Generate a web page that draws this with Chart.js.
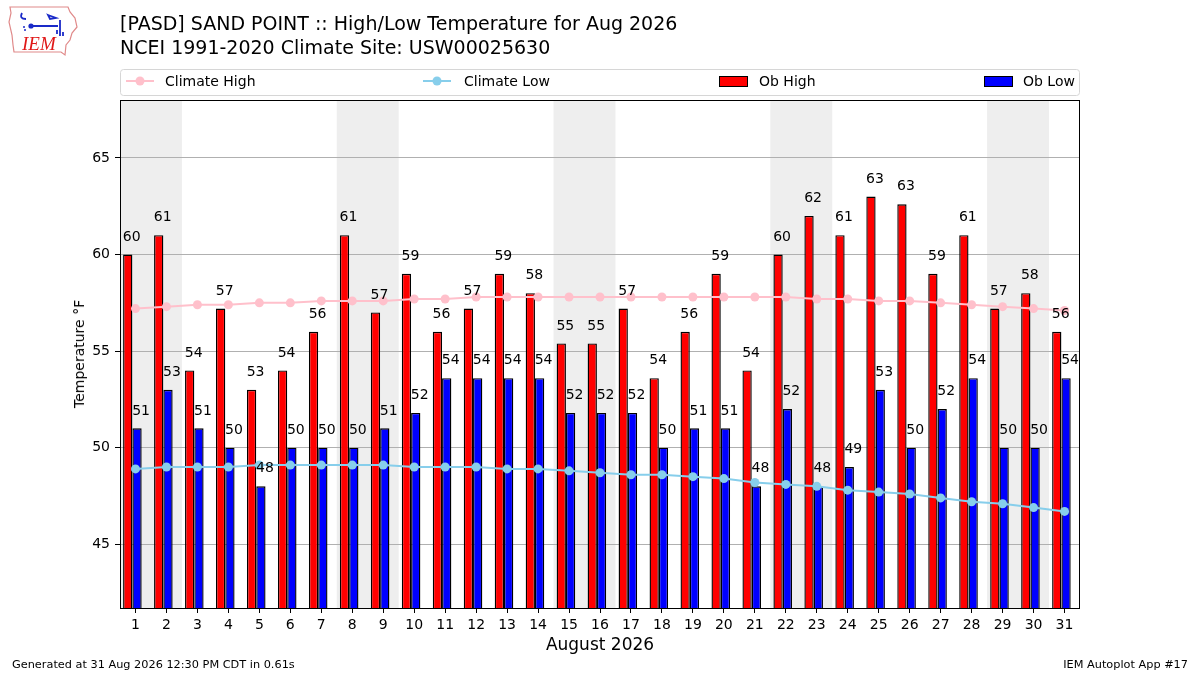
<!DOCTYPE html>
<html>
<head>
<meta charset="utf-8">
<script src="https://cdn.jsdelivr.net/npm/chart.js@4.4.1/dist/chart.umd.min.js"></script>
<style>
    body { margin: 0; background: #fff; font-family: 'DejaVu Sans', sans-serif; }
    #marco { position: relative; width: 1200px; height: 675px; background: #fff; overflow: hidden; }
    #grafica { position: absolute; left: 0; top: 0; }
    .txt { position: absolute; white-space: nowrap; color: #000; line-height: 1; }
</style>
</head>
<body>
<div id="marco">
    <canvas id="grafica" width="1200" height="675"></canvas>

    <svg style="position:absolute;left:0;top:0" width="90" height="64" viewBox="0 0 90 64">
        <path d="M10 7 L68 7 L70 12 L75 18 L77 27 L72 33 L70 40 L66 45 L65 55 L61 52 L14 52 L13 45 L12 35 L9 22 L11 13 Z" fill="none" stroke="#e08a8a" stroke-width="1.2"/>
        <path d="M29 26 L58 26 M22 13 Q19 19 26 19 M48 15 L56 18 L50 19 Z M60 20 L60 36 M57 30 L57 34 M63 32 L63 36" stroke="#1a2ac8" stroke-width="1.8" fill="none"/>
        <circle cx="31" cy="26" r="2.6" fill="#1a2ac8"/>
        <circle cx="24" cy="27" r="1" fill="#1a2ac8"/>
        <circle cx="25" cy="30" r="1" fill="#1a2ac8"/>
        <text x="22" y="50" font-family="Liberation Serif, serif" font-style="italic" font-size="19" fill="#e01818">IEM</text>
    </svg>

    <div class="txt" style="left:120px;top:14px;font-size:19px">[PASD] SAND POINT :: High/Low Temperature for Aug 2026</div>
    <div class="txt" style="left:120px;top:38px;font-size:19px">NCEI 1991-2020 Climate Site: USW00025630</div>
    <div class="txt" style="left:79px;top:354px;font-size:14px;transform:translate(-50%,-50%) rotate(-90deg)">Temperature °F</div>
    <div class="txt" style="left:600px;top:644px;font-size:17px;transform:translate(-50%,-50%)">August 2026</div>
    <div class="txt" style="left:12px;top:659px;font-size:11.3px">Generated at 31 Aug 2026 12:30 PM CDT in 0.61s</div>
    <div class="txt" style="right:12px;top:659px;font-size:11.3px">IEM Autoplot App #17</div>
</div>

<script>
// datos del mes (°F)
var dias = [1, 2, 3, 4, 5, 6, 7, 8, 9, 10, 11, 12, 13, 14, 15, 16, 17, 18, 19, 20, 21, 22, 23, 24, 25, 26, 27, 28, 29, 30, 31];
var obAlta = [60, 61, 54, 57.2, 53, 54, 56, 61, 57, 59, 56, 57.2, 59, 58, 55.4, 55.4, 57.2, 53.6, 56, 59, 54, 60, 62, 61, 63, 62.6, 59, 61, 57.2, 58, 56];
var obBaja = [51, 53, 51, 50, 48, 50, 50, 50, 51, 51.8, 53.6, 53.6, 53.6, 53.6, 51.8, 51.8, 51.8, 50, 51, 51, 48, 52, 48, 49, 53, 50, 52, 53.6, 50, 50, 53.6];
var climaAlta = [57.2, 57.3, 57.4, 57.4, 57.5, 57.5, 57.6, 57.6, 57.6, 57.7, 57.7, 57.8, 57.8, 57.8, 57.8, 57.8, 57.8, 57.8, 57.8, 57.8, 57.8, 57.8, 57.7, 57.7, 57.6, 57.6, 57.5, 57.4, 57.3, 57.2, 57.1];
var climaBaja = [48.9, 49.0, 49.0, 49.0, 49.1, 49.1, 49.1, 49.1, 49.1, 49.0, 49.0, 49.0, 48.9, 48.9, 48.8, 48.7, 48.6, 48.6, 48.5, 48.4, 48.2, 48.1, 48.0, 47.8, 47.7, 47.6, 47.4, 47.2, 47.1, 46.9, 46.7];
var ticksY = [45, 50, 55, 60, 65];
var finesDeSemana = [[1, 2], [8, 9], [15, 16], [22, 23], [29, 30]];

var fuente = "'DejaVu Sans', sans-serif";

function puntos(valores, desplazamiento) {
    return dias.map(function (d, i) { return { x: d + desplazamiento, y: valores[i] }; });
}

// sombreado de sabado/domingo, detras de la rejilla
var sombreado = {
    id: 'sombreado',
    beforeDraw: function (chart) {
        var ctx = chart.ctx, area = chart.chartArea, x = chart.scales.x;
        ctx.save();
        ctx.fillStyle = '#eeeeee';
        finesDeSemana.forEach(function (par) {
            var x0 = x.getPixelForValue(par[0] - 0.5);
            var x1 = x.getPixelForValue(par[1] + 0.5);
            ctx.fillRect(x0, area.top, x1 - x0, area.bottom - area.top);
        });
        ctx.restore();
    }
};

// etiquetas encima de cada barra
var etiquetas = {
    id: 'etiquetas',
    afterDatasetsDraw: function (chart) {
        var ctx = chart.ctx;
        ctx.save();
        ctx.font = '14px ' + fuente;
        ctx.fillStyle = '#000';
        ctx.textAlign = 'center';
        ctx.textBaseline = 'middle';
        chart.data.datasets.forEach(function (ds, k) {
            if (ds.type !== 'bar') return;
            chart.getDatasetMeta(k).data.forEach(function (barra, i) {
                ctx.fillText(String(Math.round(ds.data[i].y)), barra.x + 4, barra.y - 17.5);
            });
        });
        ctx.restore();
    }
};

// marco del area y leyenda
var marcoYLeyenda = {
    id: 'marcoYLeyenda',
    afterDraw: function (chart) {
        var ctx = chart.ctx, a = chart.chartArea;
        ctx.save();
        ctx.strokeStyle = '#000';
        ctx.lineWidth = 1;
        ctx.strokeRect(a.left + 0.5, a.top + 0.5, a.right - a.left - 1, a.bottom - a.top);

        // caja de la leyenda
        var lx = 120.5, ly = 69.5, lw = 959, lh = 26, r = 3;
        ctx.beginPath();
        ctx.moveTo(lx + r, ly);
        ctx.arcTo(lx + lw, ly, lx + lw, ly + lh, r);
        ctx.arcTo(lx + lw, ly + lh, lx, ly + lh, r);
        ctx.arcTo(lx, ly + lh, lx, ly, r);
        ctx.arcTo(lx, ly, lx + lw, ly, r);
        ctx.closePath();
        ctx.fillStyle = 'rgba(255,255,255,0.8)';
        ctx.fill();
        ctx.strokeStyle = '#d6d6d6';
        ctx.stroke();

        var cy = 81;
        var items = [
            { ds: 0, x: 126, tx: 165 },
            { ds: 1, x: 423, tx: 464 },
            { ds: 2, x: 719, tx: 759 },
            { ds: 3, x: 984, tx: 1023 }
        ];
        ctx.font = '14px ' + fuente;
        ctx.textBaseline = 'middle';
        ctx.textAlign = 'left';
        items.forEach(function (it) {
            var ds = chart.data.datasets[it.ds];
            if (ds.type === 'line') {
                ctx.strokeStyle = ds.borderColor;
                ctx.lineWidth = 2;
                ctx.beginPath();
                ctx.moveTo(it.x, cy);
                ctx.lineTo(it.x + 28, cy);
                ctx.stroke();
                ctx.fillStyle = ds.borderColor;
                ctx.beginPath();
                ctx.arc(it.x + 14, cy, 4.5, 0, Math.PI * 2);
                ctx.fill();
            } else {
                ctx.fillStyle = ds.backgroundColor;
                ctx.fillRect(it.x, cy - 5, 28, 10);
                ctx.strokeStyle = '#000';
                ctx.lineWidth = 1;
                ctx.strokeRect(it.x + 0.5, cy - 4.5, 28, 10);
            }
            ctx.fillStyle = '#000';
            ctx.fillText(ds.label, it.tx, cy + 1);
        });
        ctx.restore();
    }
};

var ctx = document.getElementById('grafica').getContext('2d');
var grafica = new Chart(ctx, {
    data: {
        datasets: [
            {
                type: 'line', label: 'Climate High', data: puntos(climaAlta, 0),
                borderColor: '#ffc0cb', backgroundColor: '#ffc0cb', borderWidth: 2,
                pointRadius: 4.5, pointBorderWidth: 0, order: 0
            },
            {
                type: 'line', label: 'Climate Low', data: puntos(climaBaja, 0),
                borderColor: '#87ceeb', backgroundColor: '#87ceeb', borderWidth: 2,
                pointRadius: 4.5, pointBorderWidth: 0, order: 0
            },
            {
                type: 'bar', label: 'Ob High', data: puntos(obAlta, -0.1),
                backgroundColor: '#ff0000', borderColor: '#000', borderWidth: 1.4, borderSkipped: false,
                categoryPercentage: 0.6, barPercentage: 1.0, order: 1
            },
            {
                type: 'bar', label: 'Ob Low', data: puntos(obBaja, -0.1),
                backgroundColor: '#0000ff', borderColor: '#000', borderWidth: 1.4, borderSkipped: false,
                categoryPercentage: 0.6, barPercentage: 1.0, order: 1
            }
        ]
    },
    options: {
        responsive: false,
        animation: false,
        devicePixelRatio: 1,
        layout: { padding: { left: 0, top: 100, right: 120, bottom: 0 } },
        plugins: { legend: { display: false }, tooltip: { enabled: false } },
        scales: {
            x: {
                type: 'linear', min: 0.5, max: 31.5, offset: false,
                afterBuildTicks: function (s) { s.ticks = dias.map(function (d) { return { value: d }; }); },
                afterFit: function (s) { s.height = 67; },
                grid: { offset: false, drawOnChartArea: false, drawTicks: true, tickLength: 5, tickColor: '#000' },
                border: { display: false },
                ticks: { color: '#000', padding: 4, maxRotation: 0, autoSkip: false, font: { family: fuente, size: 14 } }
            },
            y: {
                type: 'linear', min: 41.7, max: 68,
                afterBuildTicks: function (s) { s.ticks = ticksY.map(function (v) { return { value: v }; }); },
                afterFit: function (s) { s.width = 120; },
                grid: { color: '#b0b0b0', lineWidth: 1, tickLength: 5, tickColor: '#000' },
                border: { display: false },
                ticks: { color: '#000', padding: 5, font: { family: fuente, size: 14 } }
            }
        }
    },
    plugins: [sombreado, etiquetas, marcoYLeyenda]
});
</script>
</body>
</html>
